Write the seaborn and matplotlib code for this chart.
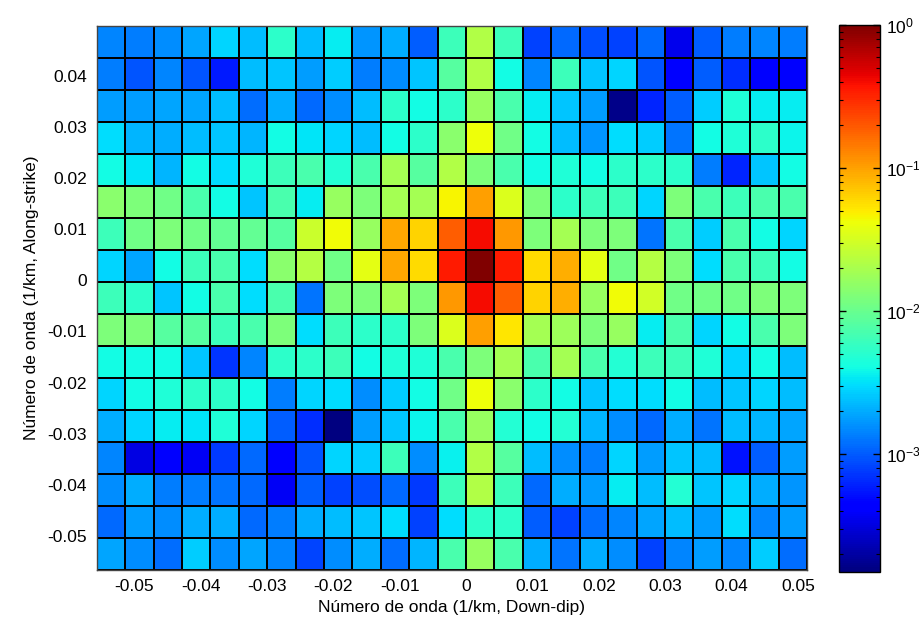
"""
2-D wavenumber spectrum of slip (normalised power, log colour scale).
"""

import matplotlib
matplotlib.use("Agg")

import matplotlib.pyplot as plt
import numpy as np
import seaborn as sns
from matplotlib.colors import LogNorm

# Grid spacing of the wavenumber axes (1/km) and index of the k=0 edge.
dk_downdip = 0.00428
dk_along = 0.00625
zero_col = 13   # columns left of k_downdip = 0
zero_row = 8    # rows above k_along = 0

# log10 of the normalised power, one row per along-strike wavenumber
# (top row first), 25 down-dip wavenumbers per row.
log_power = [
    [-2.84, -2.87, -2.81, -2.72, -2.54, -2.63, -2.27, -2.63, -2.45, -2.78, -2.69, -2.99, -2.21,
     -1.67, -2.21, -3.10, -2.95, -3.05, -3.10, -2.95, -3.45, -2.99, -2.87, -2.84, -2.87],
    [-2.87, -3.02, -2.84, -3.02, -3.25, -2.63, -2.60, -2.75, -2.57, -2.87, -2.81, -2.60, -2.09,
     -1.67, -2.39, -2.84, -2.21, -2.60, -2.54, -3.02, -3.40, -2.99, -3.17, -3.40, -3.40],
    [-2.75, -2.75, -2.72, -2.72, -2.63, -2.93, -2.69, -2.95, -2.81, -2.63, -2.27, -2.39, -2.27,
     -1.79, -2.15, -2.45, -2.60, -2.75, -3.78, -3.20, -2.99, -2.57, -2.33, -2.45, -2.45],
    [-2.51, -2.66, -2.69, -2.63, -2.60, -2.66, -2.39, -2.48, -2.54, -2.63, -2.39, -2.27, -1.85,
     -1.38, -1.97, -2.39, -2.63, -2.78, -2.51, -2.57, -2.90, -2.39, -2.33, -2.27, -2.42],
    [-2.39, -2.48, -2.66, -2.39, -2.51, -2.33, -2.21, -2.15, -2.32, -2.15, -1.73, -2.09, -1.67,
     -1.91, -2.15, -2.39, -2.33, -2.39, -2.27, -2.27, -2.27, -2.87, -3.20, -2.60, -2.39],
    [-1.85, -1.91, -1.97, -2.15, -2.39, -2.60, -2.15, -2.45, -1.79, -1.91, -1.73, -1.73, -1.34,
     -0.99, -1.47, -1.91, -2.27, -2.21, -2.21, -2.54, -1.91, -2.15, -2.21, -2.15, -2.15],
    [-2.21, -1.97, -1.91, -1.97, -2.03, -2.03, -2.09, -1.55, -1.36, -1.79, -1.02, -1.20, -0.72,
     -0.39, -0.96, -1.91, -1.73, -1.91, -1.91, -2.90, -2.15, -2.57, -2.15, -2.39, -2.54],
    [-2.54, -2.72, -2.39, -2.21, -2.15, -2.51, -1.85, -1.65, -1.97, -1.43, -1.02, -1.23, -0.45,
     0.00, -0.45, -1.23, -1.05, -1.43, -1.97, -1.65, -1.91, -2.51, -2.15, -2.21, -2.39],
    [-2.21, -2.27, -2.60, -2.39, -2.15, -2.51, -2.15, -2.90, -1.91, -1.91, -1.73, -1.91, -0.96,
     -0.39, -0.72, -1.20, -1.05, -1.79, -1.36, -1.52, -1.97, -1.97, -1.97, -1.91, -1.91],
    [-1.91, -1.91, -2.09, -2.09, -2.21, -2.15, -1.91, -2.51, -2.21, -2.27, -2.27, -1.91, -1.47,
     -0.99, -1.28, -1.73, -1.76, -1.91, -1.79, -2.45, -2.15, -2.54, -2.39, -2.15, -1.91],
    [-2.39, -2.39, -2.39, -2.60, -3.15, -2.84, -2.27, -2.27, -2.21, -2.39, -2.33, -2.33, -2.15,
     -1.91, -1.73, -2.15, -1.73, -2.15, -2.32, -2.21, -2.21, -2.33, -2.54, -2.39, -2.63],
    [-2.54, -2.39, -2.33, -2.27, -2.27, -2.39, -2.87, -2.54, -2.51, -2.81, -2.57, -2.39, -1.97,
     -1.38, -1.85, -2.27, -2.39, -2.60, -2.51, -2.51, -2.39, -2.63, -2.60, -2.54, -2.63],
    [-2.69, -2.54, -2.45, -2.48, -2.33, -2.54, -2.99, -3.17, -3.82, -2.75, -2.60, -2.42, -2.15,
     -1.79, -2.32, -2.39, -2.32, -2.66, -2.81, -2.95, -2.69, -2.90, -2.63, -2.66, -2.72],
    [-2.84, -3.48, -3.38, -3.43, -3.13, -2.95, -3.38, -3.02, -2.54, -2.57, -2.21, -2.81, -2.44,
     -1.67, -2.09, -2.63, -2.81, -2.87, -2.54, -2.75, -2.60, -2.63, -3.28, -2.99, -2.75],
    [-2.81, -2.69, -2.87, -2.87, -2.90, -2.95, -3.43, -2.99, -3.10, -3.05, -2.95, -3.13, -2.21,
     -1.67, -2.21, -2.95, -2.69, -2.75, -2.45, -2.63, -2.32, -2.60, -2.54, -2.69, -2.78],
    [-2.95, -2.75, -2.81, -2.69, -2.69, -2.95, -2.87, -2.69, -2.63, -2.60, -2.51, -3.10, -2.52,
     -2.27, -2.27, -2.99, -3.10, -2.93, -2.84, -2.72, -2.63, -2.75, -2.51, -2.84, -2.75],
    [-2.72, -2.81, -2.93, -2.57, -2.81, -2.72, -2.84, -3.08, -2.81, -2.69, -2.93, -2.66, -2.15,
     -1.79, -2.15, -2.69, -2.90, -2.69, -2.81, -3.10, -2.84, -2.75, -2.84, -2.57, -2.93],
]

x_ticks = [-0.05, -0.04, -0.03, -0.02, -0.01, 0.0, 0.01, 0.02, 0.03, 0.04, 0.05]
x_labels = ["-0.05", "-0.04", "-0.03", "-0.02", "-0.01", "0",
            "0.01", "0.02", "0.03", "0.04", "0.05"]
y_ticks = [0.04, 0.03, 0.02, 0.01, 0.0, -0.01, -0.02, -0.03, -0.04, -0.05]
y_labels = ["0.04", "0.03", "0.02", "0.01", "0",
            "-0.01", "-0.02", "-0.03", "-0.04", "-0.05"]

color_min_log = -3.823

sns.set_style("white")
plt.rcParams["font.family"] = ["Liberation Sans", "DejaVu Sans"]
plt.rcParams["font.size"] = 12.5
for key in ("text.color", "axes.labelcolor", "xtick.color", "ytick.color"):
    plt.rcParams[key] = "black"

power = 10.0 ** np.array(log_power)

W, H = 919, 627
fig = plt.figure(figsize=(W / 100, H / 100), dpi=100)
ax = fig.add_axes([96.7 / W, 1 - 569.5 / H, (807 - 96.7) / W, (569.5 - 26) / H])
cax = fig.add_axes([838.5 / W, 1 - 571.7 / H, 41.5 / W, (571.7 - 25) / H])

sns.heatmap(
    power,
    ax=ax,
    cbar_ax=cax,
    cmap="jet",
    norm=LogNorm(vmin=10.0 ** color_min_log, vmax=1.0),
    linewidths=1.2,
    linecolor="black",
)

# Map wavenumbers onto heatmap cell coordinates.
ax.set_xticks(np.array(x_ticks) / dk_downdip + zero_col)
ax.set_xticklabels(x_labels, rotation=0)
ax.set_yticks(zero_row - np.array(y_ticks) / dk_along)
ax.set_yticklabels(y_labels, rotation=0)
ax.tick_params(length=0, pad=7, labelsize=12.5)
for side in ax.spines.values():
    side.set_visible(True)
    side.set_color("#444444")
    side.set_linewidth(1.0)

ax.set_xlabel("Número de onda (1/km, Down-dip)", fontsize=12.5, labelpad=4)
ax.set_ylabel("Número de onda (1/km, Along-strike)", fontsize=12.5, labelpad=6)

# Colorbar: ticks drawn inward on both sides, above the colour strip.
cbar = ax.collections[0].colorbar
cbar.outline.set_edgecolor("black")
cbar.outline.set_linewidth(1.0)
cax.set_axisbelow(False)
cax.tick_params(which="both", direction="in", left=True, right=True,
                labelleft=False, labelright=True, labelsize=12.5, pad=4,
                color="black")
cax.tick_params(which="major", length=5, width=1.0)
cax.tick_params(which="minor", length=3, width=0.8)

fig.savefig("out.png", dpi=100)
plt.close(fig)
